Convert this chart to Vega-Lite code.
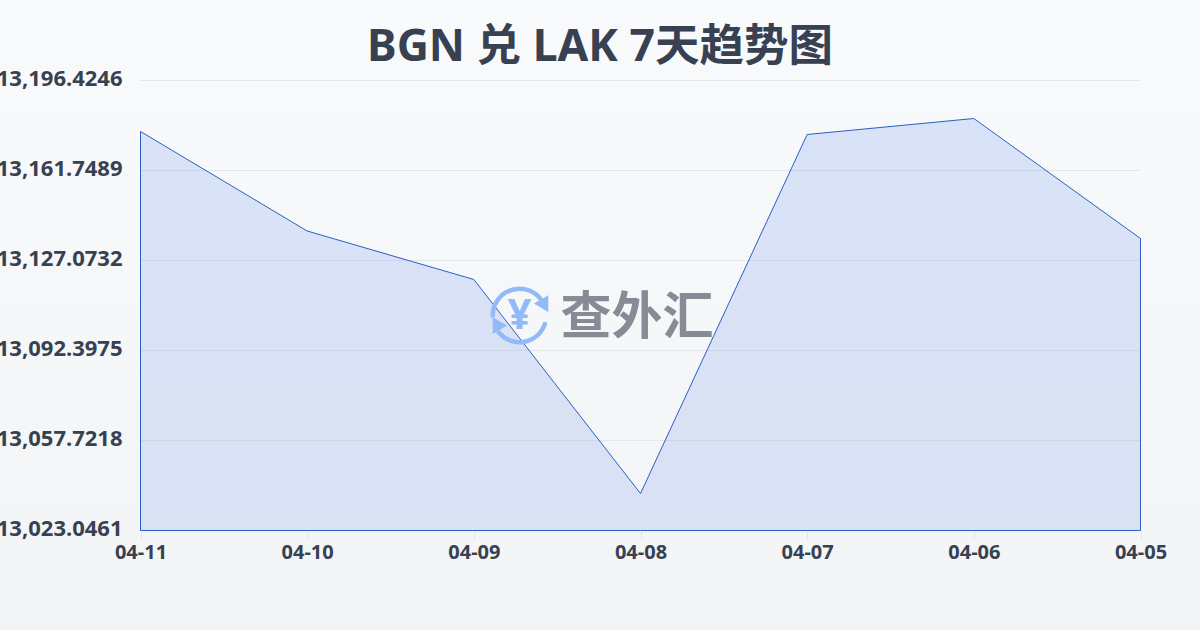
{
"$schema":"https://vega.github.io/schema/vega-lite/v6.json",
"width":1200,"height":630,"padding":0,"autosize":"none",
"config":{"view":{"stroke":null,"fill":{"x1":0,"y1":0,"x2":0,"y2":1,"gradient":"linear","stops":[{"offset":0,"color":"#f9fafb"},{"offset":1,"color":"#f3f4f6"}]}},
"font":"Noto Sans, Noto Sans CJK SC"},
"title":{"text":"BGN 兑 LAK 7天趋势图","fontSize":44.5,"fontWeight":"bold","color":"#374151","font":"Noto Sans, Noto Sans CJK SC","anchor":"middle","frame":"group","offset":0,"dy":114,"baseline":"bottom","zindex":1},
"datasets":{
"rates":[{"date":"04-11","rate":13176.78},{"date":"04-10","rate":13138.44},{"date":"04-09","rate":13119.76},{"date":"04-08","rate":13037.30},{"date":"04-07","rate":13175.62},{"date":"04-06","rate":13181.78},{"date":"04-05","rate":13135.55}],
"grid":[{"date":"04-11","date2":"04-05","rate":13023.0461},{"date":"04-11","date2":"04-05","rate":13057.7218},{"date":"04-11","date2":"04-05","rate":13092.3975},{"date":"04-11","date2":"04-05","rate":13127.0732},{"date":"04-11","date2":"04-05","rate":13161.7489},{"date":"04-11","date2":"04-05","rate":13196.4246}],
"arcs":[{"date":"04-08","rate":13105.9,"a":-1.658,"b":0.96},{"date":"04-08","rate":13105.9,"a":1.815,"b":4.10}],
"arrows":[{"date":"04-08","rate":13110.5,"off":-97,"ang":270},{"date":"04-08","rate":13102.0,"off":-143,"ang":90}],
"mark":[{"date":"04-08","rate":13105.9,"t":"查外汇"}]
},
"encoding":{"x":{"field":"date","type":"ordinal","title":null,
"scale":{"type":"point","padding":0,"domain":["04-11","04-10","04-09","04-08","04-07","04-06","04-05"],"range":[140.5,1140.5]},
"axis":{"orient":"bottom","offset":-100,"labelAngle":0,"labelAlign":"center","labelBaseline":"top","domain":false,"grid":false,"ticks":true,"tickColor":"#e5e7eb","tickSize":10,"labelFontSize":20,"labelFontWeight":"bold","labelColor":"#374151","labelPadding":2,"labelFont":"Noto Sans"}},
"y":{"field":"rate","type":"quantitative","title":null,"stack":null,
"scale":{"domain":[13023.0461,13196.4246],"range":[530.5,80.5],"zero":false,"nice":false},
"axis":{"orient":"left","offset":-140,"values":[13023.0461,13057.7218,13092.3975,13127.0732,13161.7489,13196.4246],"format":",.4f","domain":false,"ticks":false,"grid":false,"labelFontSize":22,"labelFontWeight":"bold","labelColor":"#374151","labelPadding":18,"labelOffset":-2,"labelFont":"Noto Sans","labelFlush":false,"labelOverlap":false}}},
"layer":[
{"data":{"name":"grid"},"mark":{"type":"rule","color":"#e5e7eb","strokeWidth":1},
"encoding":{"x2":{"field":"date2"}}},
{"data":{"name":"rates"},"mark":{"type":"area","stroke":"#2b5fc4","strokeWidth":1,"fill":{"x1":0,"y1":0,"x2":0,"y2":1,"gradient":"linear","stops":[{"offset":0,"color":"rgba(37,99,235,0.15)"},{"offset":1,"color":"rgba(29,78,216,0.12)"}]},"opacity":1},
"encoding":{"y2":{"datum":13023.0461}}},
{"data":{"name":"arcs"},"mark":{"type":"arc","radius":29,"radius2":24.5,"fill":"#93baf8","cornerRadius":2,"xOffset":-121},
"encoding":{"theta":{"field":"a","type":"quantitative","scale":null,"stack":null},"theta2":{"field":"b"}}},
{"data":{"name":"arrows"},"mark":{"type":"point","shape":"triangle","filled":true,"opacity":1,"color":"#93baf8","size":280},
"encoding":{"xOffset":{"field":"off","type":"quantitative","scale":null},"angle":{"field":"ang","type":"quantitative","scale":null}}},
{"data":{"name":"mark"},"mark":{"type":"text","text":"¥","fontSize":42,"fontWeight":"bold","color":"#93baf8","font":"Noto Sans","align":"center","baseline":"middle","dx":-121,"dy":1}},
{"data":{"name":"mark"},"mark":{"type":"text","fontSize":51,"fontWeight":"bold","color":"#868b95","font":"Noto Sans CJK SC","align":"left","baseline":"middle","dx":-80,"dy":4},
"encoding":{"text":{"field":"t"}}}
]
}
